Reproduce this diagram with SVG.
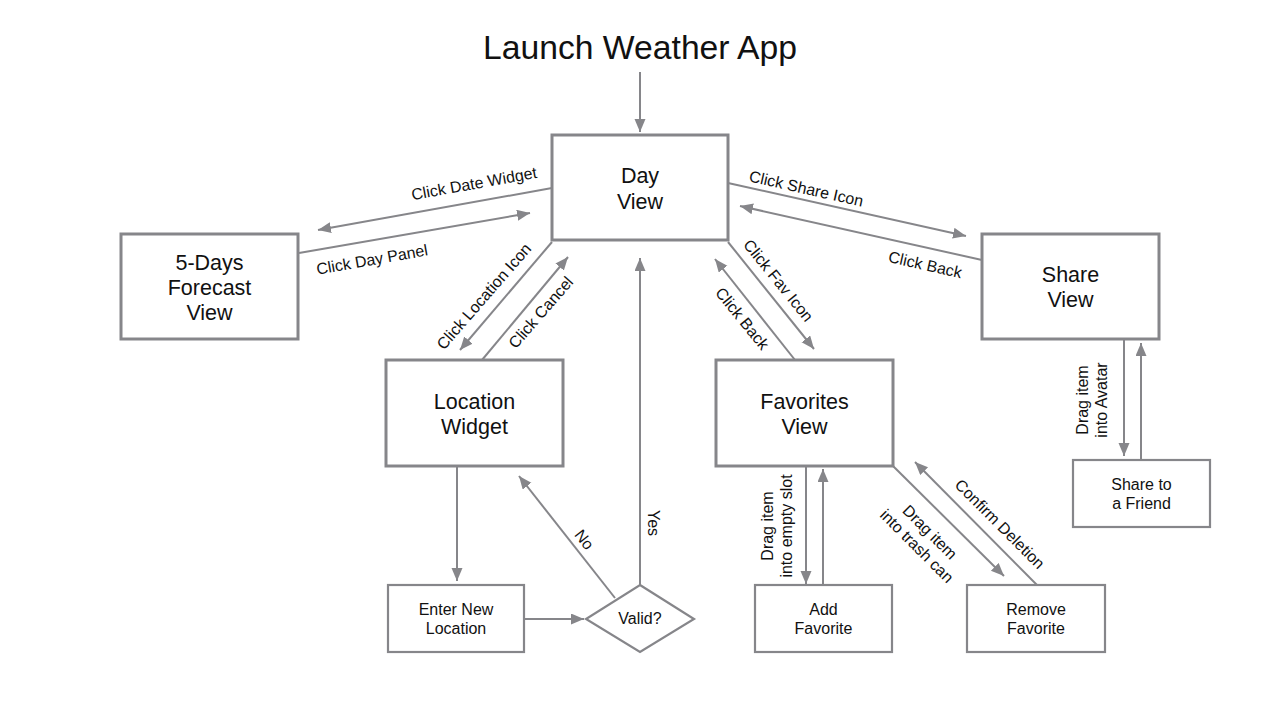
<svg xmlns="http://www.w3.org/2000/svg" width="1280" height="720" viewBox="0 0 1280 720">
<style>
.big{fill:#fff;stroke:#86868a;stroke-width:3}
.sm{fill:#fff;stroke:#86868a;stroke-width:2.2}
.c{stroke:#86868a;stroke-width:2;fill:none}
.a{marker-end:url(#ah)}
.t{font-family:"Liberation Sans",Arial,sans-serif;fill:#111;text-anchor:middle}
.n{font-size:21.5px}
.s{font-size:16px}
.l{font-size:16px}
</style>
<defs>
<marker id="ah" markerUnits="userSpaceOnUse" markerWidth="14" markerHeight="12" refX="13" refY="5.5" orient="auto">
<path d="M0,0 L13,5.5 L0,11 Z" fill="#86868a"/>
</marker>
</defs>
<rect width="1280" height="720" fill="#fff"/>
<text class="t" x="640" y="59" font-size="33.7">Launch Weather App</text>
<g id="connectors">
<line class="c a" x1="640" y1="72" x2="640" y2="132"/>
<line class="c a" x1="552" y1="188" x2="318" y2="230"/>
<line class="c a" x1="299" y1="253" x2="530" y2="213"/>
<line class="c a" x1="552" y1="242" x2="460" y2="350"/>
<line class="c a" x1="482" y1="360" x2="568" y2="257"/>
<line class="c a" x1="728" y1="183" x2="966" y2="236"/>
<line class="c a" x1="982" y1="260" x2="740" y2="206"/>
<line class="c a" x1="728" y1="242" x2="814" y2="349"/>
<line class="c a" x1="795" y1="360" x2="715" y2="259"/>
<line class="c a" x1="457" y1="466" x2="457" y2="581"/>
<line class="c a" x1="524" y1="619" x2="584" y2="619"/>
<line class="c a" x1="615" y1="598" x2="519" y2="476"/>
<line class="c a" x1="640" y1="585" x2="640" y2="258"/>
<line class="c a" x1="806" y1="466" x2="806" y2="584"/>
<line class="c a" x1="823" y1="585" x2="823" y2="469"/>
<line class="c a" x1="893" y1="466" x2="1004" y2="576"/>
<line class="c a" x1="1037" y1="585" x2="915" y2="462"/>
<line class="c a" x1="1124" y1="340" x2="1124" y2="456"/>
<line class="c a" x1="1141" y1="460" x2="1141" y2="343"/>
<text class="t l" transform="translate(475,189) rotate(-10.2)">Click Date Widget</text>
<text class="t l" transform="translate(373,265) rotate(-10)">Click Day Panel</text>
<text class="t l" transform="translate(488,300) rotate(-49)">Click Location Icon</text>
<text class="t l" transform="translate(545,316) rotate(-49)">Click Cancel</text>
<text class="t l" transform="translate(805,194) rotate(12.6)">Click Share Icon</text>
<text class="t l" transform="translate(924,270) rotate(12.6)">Click Back</text>
<text class="t l" transform="translate(774,284) rotate(51)">Click Fav Icon</text>
<text class="t l" transform="translate(738,322) rotate(51)">Click Back</text>
<text class="t l" transform="translate(580,543) rotate(52)">No</text>
<text class="t l" transform="translate(648,523) rotate(90)">Yes</text>
<text class="t l" transform="translate(773,526) rotate(-90)">Drag item</text>
<text class="t l" transform="translate(792,526) rotate(-90)">into empty slot</text>
<text class="t l" transform="translate(926,536) rotate(45)">Drag item</text>
<text class="t l" transform="translate(913,550) rotate(45)">into trash can</text>
<text class="t l" transform="translate(996,528) rotate(45)">Confirm Deletion</text>
<text class="t l" transform="translate(1088,400) rotate(-90)">Drag item</text>
<text class="t l" transform="translate(1107,400) rotate(-90)">into Avatar</text>
</g>
<g id="day-view">
<rect class="big" x="552" y="135" width="176" height="105"/>
<text class="t n" x="640" y="183">Day</text>
<text class="t n" x="640" y="209">View</text>
</g>
<g id="forecast-view">
<rect class="big" x="121" y="234" width="177" height="105"/>
<text class="t n" x="209.5" y="270">5-Days</text>
<text class="t n" x="209.5" y="295">Forecast</text>
<text class="t n" x="209.5" y="320">View</text>
</g>
<g id="share-view">
<rect class="big" x="982" y="234" width="177" height="105"/>
<text class="t n" x="1070.5" y="282">Share</text>
<text class="t n" x="1070.5" y="307">View</text>
</g>
<g id="location-widget">
<rect class="big" x="386" y="360" width="177" height="106"/>
<text class="t n" x="474.5" y="409">Location</text>
<text class="t n" x="474.5" y="434">Widget</text>
</g>
<g id="favorites-view">
<rect class="big" x="716" y="360" width="177" height="106"/>
<text class="t n" x="804.5" y="409">Favorites</text>
<text class="t n" x="804.5" y="434">View</text>
</g>
<g id="enter-location">
<rect class="sm" x="388" y="585" width="136" height="67"/>
<text class="t s" x="456" y="615">Enter New</text>
<text class="t s" x="456" y="634">Location</text>
</g>
<g id="valid">
<polygon class="sm" points="640,585 694,619 640,652 586,619"/>
<text class="t s" x="640" y="624">Valid?</text>
</g>
<g id="add-favorite">
<rect class="sm" x="755" y="585" width="137" height="67"/>
<text class="t s" x="823.5" y="615">Add</text>
<text class="t s" x="823.5" y="634">Favorite</text>
</g>
<g id="remove-favorite">
<rect class="sm" x="967" y="585" width="138" height="67"/>
<text class="t s" x="1036" y="615">Remove</text>
<text class="t s" x="1036" y="634">Favorite</text>
</g>
<g id="share-friend">
<rect class="sm" x="1073" y="460" width="137" height="67"/>
<text class="t s" x="1141.5" y="490">Share to</text>
<text class="t s" x="1141.5" y="509">a Friend</text>
</g>
</svg>
